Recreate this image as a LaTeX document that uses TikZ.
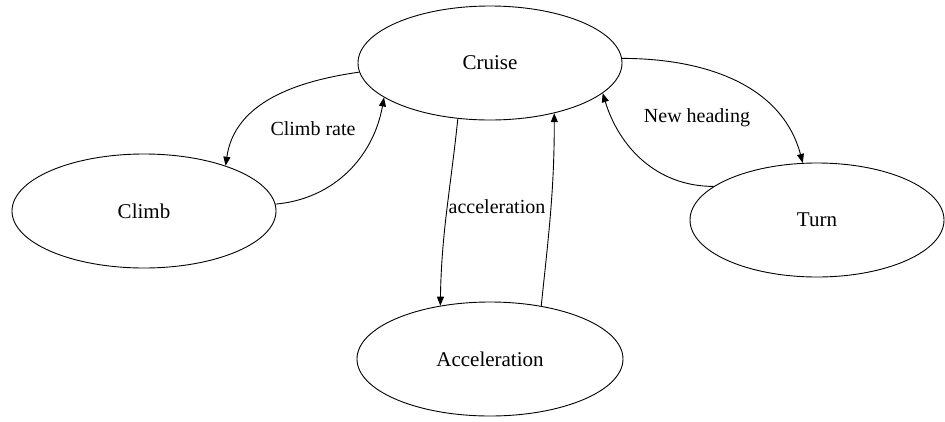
\documentclass[tikz,border=0pt]{standalone}
\usepackage{fontspec}
\setmainfont{Liberation Serif}
\usetikzlibrary{shapes.geometric,arrows.meta}
\begin{document}
\begin{tikzpicture}[x=1pt,y=-1pt,
  state/.style={draw,ellipse,line width=0.9pt,inner sep=0pt,minimum width=264pt,minimum height=114pt,font=\fontsize{21}{24}\selectfont},
  conn/.style={line width=0.9pt,-{Triangle[length=9pt,width=7pt]}},
  lbl/.style={font=\fontsize{20}{24}\selectfont,inner sep=0pt}]
\useasboundingbox (0,0) rectangle (945,421);
\node[state] (cruise) at (490,63) {Cruise};
\node[state] (climb) at (144,211) {Climb};
\node[state,minimum width=266pt] (accel) at (490,359) {Acceleration};
\node[state,minimum width=254pt] (turn) at (817,220) {Turn};
\draw[conn] (cruise.184) to[out=188,in=82] (climb.29);
\draw[conn] (climb.3) to[out=5,in=-100] (cruise.198);
\draw[conn] (cruise.240) to[out=-96,in=89] (accel.133);
\draw[conn] (accel.46) to[out=84,in=-90] (cruise.322);
\draw[conn] (cruise.2) to[out=0,in=105] (turn.104);
\draw[conn] (turn.162) to[out=180,in=-73] (cruise.345);
\node[lbl] (l1) at (313,129) {Climb rate};
\node[lbl] (l2) at (497,207) {acceleration};
\node[lbl] (l3) at (697,118) {New heading};
\end{tikzpicture}
\end{document}
